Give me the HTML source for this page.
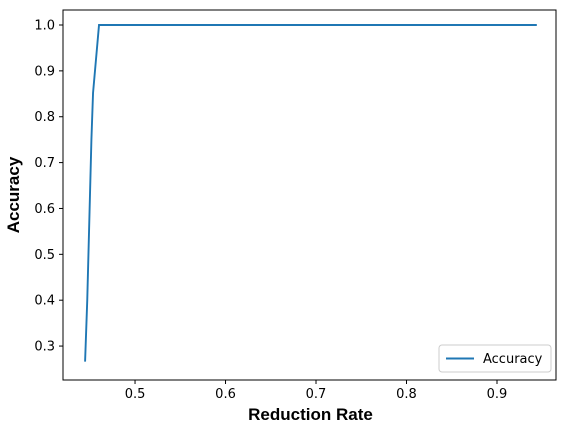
<!DOCTYPE html>
<html><head><meta charset="utf-8"><style>
body{margin:0;background:#fff;}
svg{display:block;font-family:"DejaVu Sans","Liberation Sans",sans-serif;}
</style></head><body>
<svg id="chart" width="571" height="431"></svg>
<script>
const xValues=[0.4448,0.4472,0.4518,0.4536,0.4602,0.944];
const accValues=[0.266,0.40,0.75,0.852,1.0,1.0];
const xTicks=[0.5,0.6,0.7,0.8,0.9];
const yTicks=[0.3,0.4,0.5,0.6,0.7,0.8,0.9,1.0];
const L=63,R=556,T=10,B=380;
const xmin=0.4204,xmax=0.9652,ymin=0.226,ymax=1.0327;
const sx=v=>L+(v-xmin)/(xmax-xmin)*(R-L);
const sy=v=>B-(v-ymin)/(ymax-ymin)*(B-T);
const svg=document.getElementById('chart');
const NS='http://www.w3.org/2000/svg';
function mk(t,a,p){const e=document.createElementNS(NS,t);for(const k in a)e.setAttribute(k,a[k]);(p||svg).appendChild(e);return e;}
const frame=mk('rect',{x:L,y:T,width:R-L,height:B-T,fill:'none',stroke:'#000','stroke-width':1});


xTicks.forEach(v=>{
  const x=sx(v);
  const tk=mk('line',{x1:x,x2:x,y1:B,y2:B+4,stroke:'#000'});
  
  
  const t=mk('text',{x:x,y:B+18,'text-anchor':'middle','font-size':13,fill:'#000'});
  t.textContent=v.toFixed(1);
  
  
});
yTicks.forEach(v=>{
  const y=sy(v);
  const tk=mk('line',{x1:L-4,x2:L,y1:y,y2:y,stroke:'#000'});
  
  
  const t=mk('text',{x:L-8,y:y+4.5,'text-anchor':'end','font-size':13,fill:'#000'});
  t.textContent=v.toFixed(1);
  
  
});
const line=mk('polyline',{points:xValues.map((v,i)=>sx(v)+','+sy(accValues[i])).join(' '),fill:'none',stroke:'#1f77b4','stroke-width':1.9});


const xt=mk('text',{x:(L+R)/2+1,y:420,'text-anchor':'middle','font-size':17,'font-weight':'bold',fill:'#000','font-family':'Liberation Sans, sans-serif'});
xt.textContent='Reduction Rate';


const yt=mk('text',{x:0,y:0,'text-anchor':'middle','font-size':17,'font-weight':'bold',fill:'#000','font-family':'Liberation Sans, sans-serif',transform:'translate(19,'+((T+B)/2)+') rotate(-90)'});
yt.textContent='Accuracy';


const lg=mk('g',{});


mk('rect',{x:439,y:345,width:112,height:27,rx:3,fill:'#fff',stroke:'#ccc'},lg);
mk('line',{x1:446,x2:474,y1:358.5,y2:358.5,stroke:'#1f77b4','stroke-width':1.9},lg);
const lt=mk('text',{x:483,y:363,'font-size':13,fill:'#000'},lg);
lt.textContent='Accuracy';


</script>
</body></html>
